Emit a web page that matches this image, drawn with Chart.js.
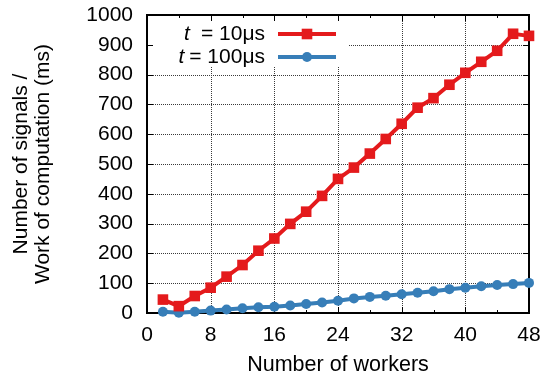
<!DOCTYPE html>
<html>
<head>
<meta charset="utf-8">
<script src="https://cdn.jsdelivr.net/npm/chart.js@4"></script>
<style>
  html, body { margin: 0; padding: 0; background: #fff; }
  canvas { display: block; }
</style>
</head>
<body>
<canvas id="chart" width="543" height="381"></canvas>
<script>
// number of workers on the x axis
const workers = [2, 4, 6, 8, 10, 12, 14, 16, 18, 20, 22, 24, 26, 28, 30, 32, 34, 36, 38, 40, 42, 44, 46, 48];
// t = 10us
const signals10 = [45, 23, 57, 85, 122, 161, 209, 250, 299, 340, 393, 450, 488, 535, 584, 635, 689, 721, 766, 806, 843, 880, 937, 930];
// t = 100us
const signals100 = [4, 1, 4, 8, 12, 16, 19, 21, 25, 30, 35, 41, 49, 54, 58, 63, 68, 73, 80, 85, 90, 94, 97, 101];
const seriesLabels = ['t = 10μs', 't = 100μs'];

const xTickValues = [0, 8, 16, 24, 32, 40, 48];
const xMinorTicks = [4, 12, 20, 28, 36, 44];
const yTickValues = [0, 100, 200, 300, 400, 500, 600, 700, 800, 900, 1000];

const FONT = '"Liberation Sans", Arial, Helvetica, sans-serif';
const red = '#e41a1c';
const blue = '#377eb8';

function points(ys) {
    return workers.map((w, i) => ({ x: w, y: ys[i] }));
}

// dotted grid, blank area behind the key, box around the plot, inward ticks
const frame = {
    id: 'frame',
    beforeDatasetsDraw(chart) {
        const { ctx, chartArea: a, scales: { x, y } } = chart;
        ctx.save();

        ctx.strokeStyle = '#3a3a3a';
        ctx.lineWidth = 1;
        ctx.setLineDash([1, 1]);
        ctx.beginPath();
        x.ticks.forEach(t => {
            const px = Math.round(x.getPixelForValue(t.value)) + 0.5;
            ctx.moveTo(px, a.top); ctx.lineTo(px, a.bottom);
        });
        y.ticks.forEach(t => {
            const py = Math.round(y.getPixelForValue(t.value)) + 0.5;
            ctx.moveTo(a.left, py); ctx.lineTo(a.right, py);
        });
        ctx.stroke();
        ctx.setLineDash([]);

        ctx.fillStyle = '#fff';
        ctx.fillRect(a.left + 1, a.top + 1, 201, 51);

        ctx.strokeStyle = '#000';
        ctx.beginPath();
        xTickValues.forEach(v => {
            const px = Math.round(x.getPixelForValue(v)) + 0.5;
            ctx.moveTo(px, a.bottom); ctx.lineTo(px, a.bottom - 6);
            ctx.moveTo(px, a.top); ctx.lineTo(px, a.top + 6);
        });
        xMinorTicks.forEach(v => {
            const px = Math.round(x.getPixelForValue(v)) + 0.5;
            ctx.moveTo(px, a.bottom); ctx.lineTo(px, a.bottom - 3);
            ctx.moveTo(px, a.top); ctx.lineTo(px, a.top + 3);
        });
        yTickValues.forEach(v => {
            const py = Math.round(y.getPixelForValue(v)) + 0.5;
            ctx.moveTo(a.left, py); ctx.lineTo(a.left + 6, py);
            ctx.moveTo(a.right, py); ctx.lineTo(a.right - 6, py);
        });
        ctx.stroke();

        ctx.lineWidth = 2;
        ctx.strokeRect(a.left, a.top, a.right - a.left, a.bottom - a.top);
        ctx.restore();
    }
};

// key in the top-left corner: italic symbol, value, then line sample with marker
const key = {
    id: 'key',
    afterDatasetsDraw(chart) {
        const { ctx, chartArea: a } = chart;
        const gaps = [11, 5];
        ctx.save();
        chart.data.datasets.forEach((ds, i) => {
            const rowY = a.top + 19 + i * 23;
            const textRight = a.left + 118;
            const [sym, rest] = ds.label.split(' = ');

            ctx.fillStyle = '#000';
            ctx.textBaseline = 'middle';
            ctx.textAlign = 'right';
            ctx.font = '21px ' + FONT;
            const tail = '= ' + rest;
            ctx.fillText(tail, textRight, rowY);
            const w = ctx.measureText(tail).width;
            ctx.font = 'italic 21px ' + FONT;
            ctx.fillText(sym, textRight - w - gaps[i], rowY);

            ctx.strokeStyle = ds.borderColor;
            ctx.lineWidth = ds.borderWidth;
            ctx.beginPath();
            ctx.moveTo(a.left + 131, rowY);
            ctx.lineTo(a.left + 189, rowY);
            ctx.stroke();
            ctx.fillStyle = ds.backgroundColor;
            Chart.helpers.drawPoint(ctx, { pointStyle: ds.pointStyle, radius: ds.pointRadius, borderWidth: 0, rotation: 0 }, a.left + 160, rowY);
        });
        ctx.restore();
    }
};

new Chart(document.getElementById('chart'), {
    type: 'line',
    data: {
        datasets: [{
            label: seriesLabels[0],
            data: points(signals10),
            borderColor: red,
            backgroundColor: red,
            borderWidth: 4,
            pointStyle: 'rect',
            pointRadius: 7.5,
            pointBorderWidth: 0,
            clip: false
        }, {
            label: seriesLabels[1],
            data: points(signals100),
            borderColor: blue,
            backgroundColor: blue,
            borderWidth: 4,
            pointStyle: 'circle',
            pointRadius: 5,
            pointBorderWidth: 0,
            clip: false
        }]
    },
    options: {
        responsive: false,
        animation: false,
        devicePixelRatio: 1,
        layout: { padding: { left: 0, right: 14, top: 15, bottom: 0 } },
        plugins: {
            legend: { display: false },
            tooltip: { enabled: false }
        },
        scales: {
            x: {
                type: 'linear',
                min: 0,
                max: 48,
                afterBuildTicks: s => { s.ticks = xTickValues.map(v => ({ value: v })); },
                afterFit: s => {
                    s.height = 68;
                    s.paddingLeft = 0;
                    s.paddingRight = 12;
                },
                grid: { display: false, drawTicks: false },
                border: { display: false },
                ticks: { color: '#000', padding: 10, maxRotation: 0, callback: v => String(v), font: { family: FONT, size: 21 } },
                title: {
                    display: true,
                    text: 'Number of workers',
                    color: '#000',
                    padding: { top: 0, bottom: 3 },
                    font: { family: FONT, size: 21.5 }
                }
            },
            y: {
                min: 0,
                max: 1000,
                afterBuildTicks: s => { s.ticks = yTickValues.map(v => ({ value: v })); },
                afterFit: s => {
                    s.width = 147;
                    s.paddingTop = 12;
                    s.paddingBottom = 12;
                },
                grid: { display: false, drawTicks: false },
                border: { display: false },
                ticks: { color: '#000', padding: 14, callback: v => String(v), font: { family: FONT, size: 21 } },
                title: {
                    display: true,
                    text: ['Number of signals /', 'Work of computation (ms)'],
                    color: '#000',
                    padding: { top: 10, bottom: 0 },
                    font: { family: FONT, size: 21, lineHeight: 1.05 }
                }
            }
        }
    },
    plugins: [frame, key]
});
</script>
</body>
</html>
